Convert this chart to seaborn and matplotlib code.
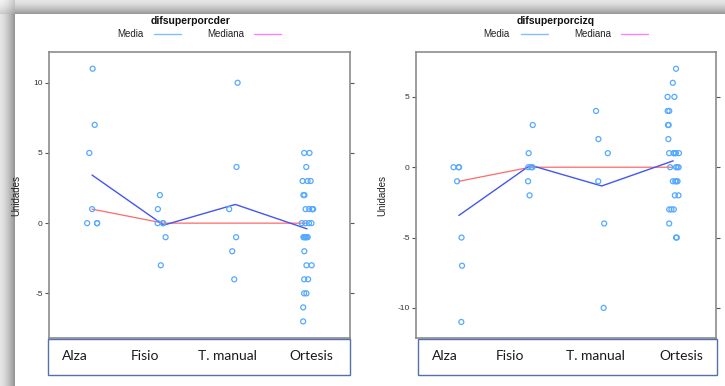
import numpy as np
import pandas as pd
import matplotlib
matplotlib.use("Agg")
import matplotlib.pyplot as plt
import seaborn as sns
from matplotlib.lines import Line2D
from matplotlib.patches import Rectangle

# ---------------- data ----------------
categories = ["Alza", "Fisio", "T. manual", "Ortesis"]

der_alza = [11, 7, 5, 1, 0, 0, 0]
der_fisio = [2, 1, 0, 0, 0, -1, -3]
der_tmanual = [10, 4, 1, -1, -2, -4]
der_ortesis = [5, 5, 4, 3, 3, 3, 2, 2, 1, 1, 1, 1, 1, 0, 0, 0, 0,
               -1, -1, -1, -1, -1, -1, -2, -3, -3, -4, -4, -5, -5, -6, -7]

izq_alza = [0, 0, 0, -1, -5, -7, -11]
izq_fisio = [3, 1, 0, 0, 0, -1, -2]
izq_tmanual = [4, 2, 1, -1, -4, -10]
izq_ortesis = [7, 6, 5, 5, 4, 4, 3, 3, 2, 1, 1, 1, 1, 1, 1, 0, 0, 0, 0,
               -1, -1, -1, -1, -2, -2, -3, -3, -3, -4, -5, -5]

titles = ["difsuperporcder", "difsuperporcizq"]
legend_labels = ["Media", "Mediana"]
y_label = "Unidades"
yticks_der = [-5, 0, 5, 10]
yticks_izq = [-10, -5, 0, 5]


def long_df(groups):
    rows = []
    for cat, vals in zip(categories, groups):
        for v in vals:
            rows.append((cat, v))
    return pd.DataFrame(rows, columns=["grupo", "valor"])


df_der = long_df([der_alza, der_fisio, der_tmanual, der_ortesis])
df_izq = long_df([izq_alza, izq_fisio, izq_tmanual, izq_ortesis])

# ---------------- style ----------------
sns.set_theme(style="white")
plt.rcParams["font.family"] = ["Liberation Sans", "DejaVu Sans"]

W, H = 725, 386
fig = plt.figure(figsize=(W / 100, H / 100), dpi=100)


def fx(x):
    return x / W


def fy(y):
    return 1 - y / H


# shadow background (page edge)
bg = fig.add_axes([0, 0, 1, 1], zorder=-10)
ys = np.arange(H)[:, None].astype(float)
xs = np.arange(W)[None, :].astype(float)
top = np.where(ys < 14, 0.90 - 0.33 * (ys / 14) ** 1.5, 1.0)
left = np.where(xs < 15, 0.90 - 0.35 * (xs / 15) ** 1.5, 1.0)
shade = np.minimum(top * np.ones_like(xs), left * np.ones_like(ys))
corner = (ys < 14) & (xs < 15)
shade = np.where(corner, np.maximum(top, left) * 0.5 + 0.5 * np.minimum(top, left) + 0.05, shade)
shade = np.clip(shade, 0, 1)
bg.imshow(np.dstack([shade] * 3), aspect="auto", extent=[0, 1, 0, 1], interpolation="bilinear")
bg.set_axis_off()

point_color = "#55aaff"
mean_color = "#4455f2"
median_color = "#ff6a6a"
legend_mean = "#80bfff"
legend_median = "#ff80ff"
frame_color = "#8c8c8c"
box_color = "#5571aa"

np.random.seed(3)

panels = [
    dict(df=df_der, ax_px=(49, 52, 350, 338), ylim=(-8.18, 12.19), yticks=yticks_der,
         title=titles[0], title_x=191, leg=(144, 154, 181, 207, 254, 281),
         ylab_x=21, box=(48, 339, 350, 375), labx=[75, 145.5, 227.5, 311.5]),
    dict(df=df_izq, ax_px=(416, 52, 716, 338), ylim=(-12.14, 8.19), yticks=yticks_izq,
         title=titles[1], title_x=556, leg=(510, 521, 548, 574, 621, 648),
         ylab_x=387, box=(418, 339, 717, 375), labx=[444.5, 509.5, 595, 681]),
]

for p in panels:
    x0, y0, x1, y1 = p["ax_px"]
    ax = fig.add_axes([fx(x0), fy(y1), (x1 - x0) / W, (y1 - y0) / H])
    df = p["df"]
    sns.stripplot(data=df, x="grupo", y="valor", order=categories, jitter=0.09,
                  color=point_color, facecolor="none", edgecolor=point_color,
                  linewidth=0.9, size=3.6, zorder=3, ax=ax)
    sns.pointplot(data=df, x="grupo", y="valor", order=categories, estimator="median",
                  errorbar=None, color=median_color, markersize=0, linewidth=0.9, ax=ax)
    sns.pointplot(data=df, x="grupo", y="valor", order=categories, estimator="mean",
                  errorbar=None, color=mean_color, markersize=0, linewidth=1.0, ax=ax)
    ax.set_xlim(-0.6, 3.6)
    ax.set_ylim(*p["ylim"])
    ax.set_yticks(p["yticks"])
    ax.set_yticklabels([str(t) for t in p["yticks"]])
    ax.set_xlabel("")
    ax.set_ylabel(y_label, fontsize=7, color="#222222")
    ax.yaxis.set_label_coords((p["ylab_x"] - x0) / (x1 - x0), 0.5)
    ax.tick_params(axis="y", which="both", left=True, right=True, labelleft=True,
                   labelright=False, direction="out", length=3, width=0.8,
                   color="#555555", labelsize=6, labelcolor="#333333", pad=1.5)
    ax.tick_params(axis="x", bottom=False, labelbottom=False)
    for s in ax.spines.values():
        s.set_color(frame_color)
        s.set_linewidth(1.2)
    ax.set_facecolor("white")

    # title and key
    fig.text(fx(p["title_x"]), fy(21), p["title"], ha="center", va="center",
             fontsize=7.5, fontweight="bold", color="#111111")
    t_end, l1a, l1b, m_start, l2a, l2b = p["leg"]
    fig.text(fx(t_end), fy(34), legend_labels[0], ha="right", va="center",
             fontsize=7, color="#222222")
    fig.add_artist(Line2D([fx(l1a), fx(l1b)], [fy(34), fy(34)], color=legend_mean,
                          lw=1.0, transform=fig.transFigure))
    fig.text(fx(m_start), fy(34), legend_labels[1], ha="left", va="center",
             fontsize=7, color="#222222")
    fig.add_artist(Line2D([fx(l2a), fx(l2b)], [fy(34), fy(34)], color=legend_median,
                          lw=1.0, transform=fig.transFigure))

    # category label box
    bx0, by0, bx1, by1 = p["box"]
    fig.add_artist(Rectangle((fx(bx0), fy(by1)), (bx1 - bx0) / W, (by1 - by0) / H,
                             transform=fig.transFigure, facecolor="white",
                             edgecolor=box_color, lw=1.0, zorder=5))
    for cat, lx in zip(categories, p["labx"]):
        fig.text(fx(lx), fy(356), cat, ha="center", va="center", fontsize=10,
                 family=["Lato", "DejaVu Sans"], color="#1a1a1a", zorder=6)

fig.savefig("out.png", dpi=100)
